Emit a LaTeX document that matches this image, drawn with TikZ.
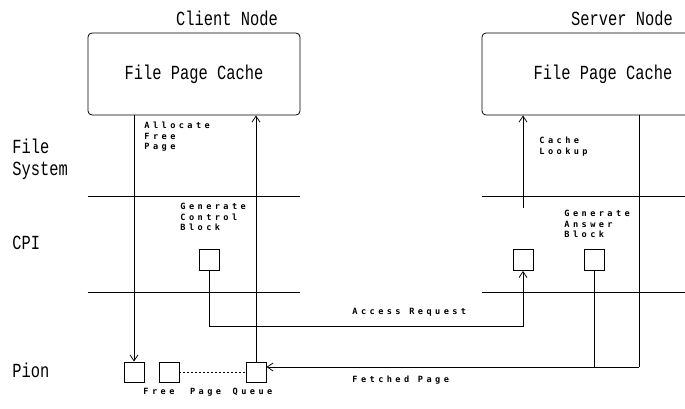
\documentclass[tikz,border=0pt]{standalone}
\usepackage{fontspec}
\newfontfamily\bigfont[FakeStretch=0.77]{Liberation Mono}
\newfontfamily\tagfont[LetterSpace=40]{DejaVu Sans Mono Bold}
\usetikzlibrary{arrows.meta, positioning}

\begin{document}
\begin{tikzpicture}[x=1pt, y=-1pt, line width=0.8pt,
    cache/.style={rectangle, draw, rounded corners=4pt, minimum width=212pt, minimum height=82pt,
                  font=\bigfont\fontsize{20}{22}\selectfont},
    blk/.style={rectangle, draw, minimum width=20pt, minimum height=20pt, inner sep=0pt},
    big/.style={font=\bigfont\fontsize{20}{22}\selectfont, align=left, inner sep=0pt},
    tag/.style={font=\tagfont\fontsize{8.6}{10.5}\selectfont, align=left, inner sep=0pt, anchor=north west},
    arrow/.style={-{Straight Barb[length=6pt, width=8pt]}}
]
    \clip (0,0) rectangle (685,409);

    % Top row: the two nodes
    \node[cache] (client) at (194,74) {File Page Cache};
    \node[cache, minimum width=242pt] (server) at (603,74) {File Page Cache};
    \node[big] (clientname) at (227,18) {Client Node};
    \node[big] (servername) at (622,18) {Server Node};

    % Layer names
    \node[big, anchor=west] (fs)   at (12,159) {File\\System};
    \node[big, anchor=west] (cpi)  at (12,243) {CPI};
    \node[big, anchor=west] (pion) at (12,370) {Pion};

    % Layer borders
    \coordinate (fsline)  at (0,196);
    \coordinate (cpiline) at (0,292);
    \draw (client.west |- fsline)  -- (client.east |- fsline);
    \draw (client.west |- cpiline) -- (client.east |- cpiline);
    \draw (server.west |- fsline)  -- (server.east |- fsline);
    \draw (server.west |- cpiline) -- (server.east |- cpiline);

    % CPI blocks
    \node[blk, minimum height=21pt] (ctrl) at (209,260) {};
    \node[blk, minimum height=21pt] (req)  at (523,260) {};
    \node[blk, minimum height=21pt] (ans)  at (594,260) {};

    % Free page queue
    \node[blk] (q1) at (134,372) {};
    \node[blk] (q2) at (169,372) {};
    \node[blk] (q3) at (256,372) {};
    \draw[dash pattern=on 2pt off 2pt] (q2.east) -- (q3.west);

    % Labels
    \node[tag] (alloc)   at (144,122) {Allocate\\Free\\Page};
    \node[tag] (genctrl) at (180,203) {Generate\\Control\\Block};
    \node[tag] (lookup)  at (539,137) {Cache\\Lookup};
    \node[tag] (genans)  at (564,210) {Generate\\Answer\\Block};
    \node[tag, anchor=west] (access)  at (352,312) {Access Request};
    \node[tag, anchor=west] (fetched) at (352,380) {Fetched Page};
    \node[tag, anchor=west] (queue)   at (143,392) {Free\hspace{7pt} Page\hspace{3pt} Queue};

    % Client side
    \draw[arrow] (q1.north |- client.south) -- (q1.north);
    \draw[arrow] (q3.north) -- (q3.north |- client.south);

    % Access request: client CPI -> server CPI
    \coordinate (reqturn) at (523,326);
    \draw[arrow] (ctrl.south) |- (reqturn) -- (req.south);

    % Server side
    \coordinate (lookfoot) at (523,208);
    \draw[arrow] (lookfoot) -- (lookfoot |- server.south);
    \coordinate (fetch) at (639,367);
    \draw (fetch |- server.south) -- (fetch);
    \draw (ans.south) -- (ans.south |- fetch);
    \draw[arrow] (fetch) -- (fetch -| q3.east);
\end{tikzpicture}
\end{document}
